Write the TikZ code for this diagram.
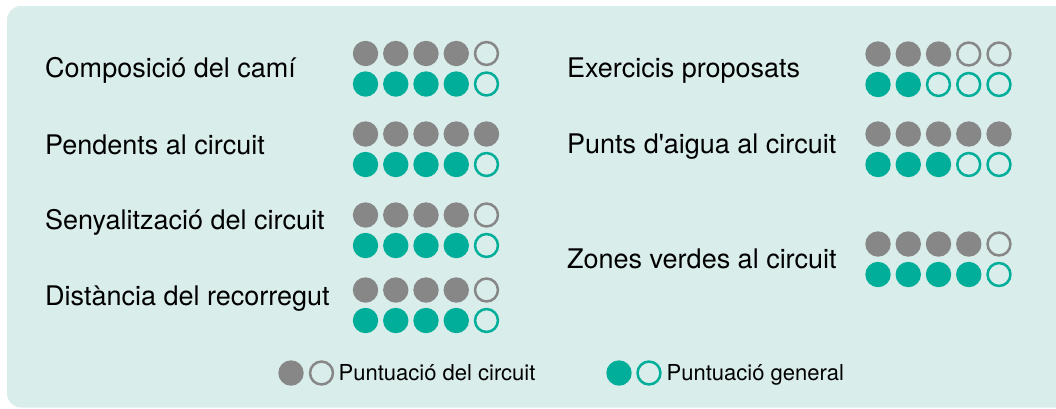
\documentclass[tikz,border=0pt]{standalone}
\usepackage{fontspec}
\setmainfont{TeX Gyre Heros}
\definecolor{ptgray}{HTML}{878787}
\definecolor{ptteal}{HTML}{00AE99}
\definecolor{ptback}{HTML}{D9EDEA}
\tikzset{
  gdot/.style={circle, fill=ptgray, minimum size=25.4pt, inner sep=0pt},
  gring/.style={circle, draw=ptgray, line width=2.5pt, minimum size=22.9pt, inner sep=0pt},
  tdot/.style={circle, fill=ptteal, minimum size=25.4pt, inner sep=0pt},
  tring/.style={circle, draw=ptteal, line width=2.5pt, minimum size=22.9pt, inner sep=0pt},
  rowlabel/.style={anchor=base west, inner sep=0pt, font=\fontsize{27}{32}\selectfont},
  keylabel/.style={anchor=base west, inner sep=0pt, font=\fontsize{22}{26}\selectfont}
}
\begin{document}
\begin{tikzpicture}[x=1pt, y=-1pt]
% page frame and panel
\useasboundingbox (0,0) rectangle (1056,408);
\clip (0,0) rectangle (1056,408);
\fill[ptback, rounded corners=14pt] (7,6) rectangle (1070,407.5);

% rows: name / text / label x / first dot x / baseline / gray row y / gray filled / teal filled
\foreach \r/\txt/\xl/\xd/\yt/\yg/\ng/\nt in {
    cami/{Composició del camí}/45/365.5/77/53.5/4/4,
    pendents/{Pendents al circuit}/45/365.5/154/134/5/4,
    senyals/{Senyalització del circuit}/45/365.5/229/215/4/4,
    distancia/{Distància del recorregut}/45/365.5/305/290/4/4,
    exercicis/{Exercicis proposats}/567/878/77/54/3/2,
    aigua/{Punts d\textquotesingle aigua al circuit}/567/878/153.5/134/5/3,
    verdes/{Zones verdes al circuit}/567/878/268/244/4/4}
{
    \node[rowlabel] (\r) at (\xl,\yt) {\txt};
    \foreach \i in {1,...,5}{
        \pgfmathsetmacro\xx{\xd+(\i-1)*30.25}
        \pgfmathsetmacro\yy{\yg+30.5}
        \ifnum\i>\ng\relax
            \node[gring] (\r-g\i) at (\xx,\yg) {};
        \else
            \node[gdot] (\r-g\i) at (\xx,\yg) {};
        \fi
        \ifnum\i>\nt\relax
            \node[tring] (\r-t\i) at (\xx,\yy) {};
        \else
            \node[tdot] (\r-t\i) at (\xx,\yy) {};
        \fi
    }
}

% legend
\node[gdot] (key-gdot) at (291,373) {};
\node[gring] (key-gring) at (321.5,373) {};
\node[keylabel] (key-circuit) at (338.5,380) {Puntuació del circuit};
\node[tdot] (key-tdot) at (619,373) {};
\node[tring] (key-tring) at (649,373) {};
\node[keylabel] (key-general) at (666.5,380) {Puntuació general};
\end{tikzpicture}
\end{document}
